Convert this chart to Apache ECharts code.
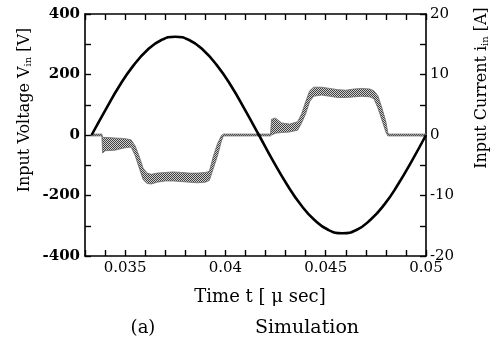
<!DOCTYPE html>
<html><head><meta charset="utf-8">
<script src="https://cdn.jsdelivr.net/npm/echarts@6/dist/echarts.min.js"></script>
<style>html,body{margin:0;padding:0;background:#fff}#c{width:496px;height:345px}</style>
</head><body><div id="c"></div>
<script>
// Input voltage (left axis, V)
const vTime = [0.03333,0.03403,0.03472,0.03542,0.03611,0.03681,0.03750,0.03819,0.03889,0.03958,0.04028,0.04097,0.04167,0.04236,0.04306,0.04375,0.04444,0.04514,0.04583,0.04653,0.04722,0.04792,0.04861,0.04931,0.05000];
const vVolt = [0,84,163,230,281,314,325,314,281,230,163,84,0,-84,-163,-230,-281,-314,-325,-314,-281,-230,-163,-84,0];

// Input current band (right axis, A): lower and upper envelope
const iTime = [0.03330,0.03384,0.03388,0.03400,0.03450,0.03500,0.03530,0.03550,0.03570,0.03590,0.03610,0.03630,0.03660,0.03700,0.03740,0.03780,0.03820,0.03860,0.03900,0.03920,0.03940,0.03960,0.03980,0.03990,0.04225,0.04230,0.04250,0.04280,0.04320,0.04360,0.04380,0.04400,0.04420,0.04440,0.04480,0.04520,0.04560,0.04600,0.04640,0.04680,0.04720,0.04740,0.04760,0.04780,0.04800,0.04810,0.04815,0.05000];
const iLow  = [-0.15,-0.15,-3.0,-2.6,-2.5,-2.1,-2.0,-3.4,-5.4,-7.4,-8.0,-8.1,-7.8,-7.6,-7.6,-7.7,-7.8,-7.9,-7.8,-7.5,-5.5,-3.5,-1.0,-0.15,-0.15,0.0,0.3,0.4,0.5,0.8,2.0,3.5,5.5,6.4,6.6,6.4,6.2,6.2,6.3,6.4,6.3,6.0,4.5,2.5,0.5,-0.15,-0.15,-0.15];
const iHigh = [0.15,0.15,-0.4,-0.4,-0.5,-0.6,-0.8,-1.8,-3.5,-5.5,-6.3,-6.5,-6.3,-6.2,-6.1,-6.2,-6.3,-6.3,-6.2,-6.0,-3.5,-1.5,-0.1,0.15,0.15,2.6,2.8,2.0,1.8,2.2,3.5,5.5,7.3,7.9,7.9,7.7,7.5,7.4,7.6,7.7,7.6,7.3,6.5,4.5,2.2,0.3,0.15,0.15];

const xTicks = {min:0.033, max:0.05, interval:0.001};
const vTicks = {min:-400, max:400, interval:100};
const iTicks = {min:-20, max:20, interval:5};

const FONT = 'DejaVu Serif';
const cv = document.createElement('canvas'); cv.width = 2; cv.height = 2;
const cx = cv.getContext('2d');
cx.fillStyle = '#d0d0d0'; cx.fillRect(0,0,2,2);
cx.fillStyle = '#404040'; cx.fillRect(0,0,1,1); cx.fillRect(1,1,1,1);

const chart = echarts.init(document.getElementById('c'), null, {renderer:'canvas'});
const axisLine = {show:true, onZero:false, lineStyle:{color:'#000', width:1.6}};
const tick = {show:true, inside:true, length:6, lineStyle:{color:'#000', width:1.4}};
const labReg = {color:'#000', fontFamily:FONT, fontSize:15, fontWeight:'normal'};
const labBold = {color:'#000', fontFamily:FONT, fontSize:15, fontWeight:'bold'};

const bandData = iTime.map((t,k)=>[t,iLow[k],iHigh[k]]);

chart.setOption({
  animation:false,
  grid:{left:85, right:70, top:14, bottom:89},
  xAxis:[
    {type:'value', position:'bottom', min:xTicks.min, max:xTicks.max, interval:xTicks.interval,
     axisLine:axisLine, axisTick:tick, splitLine:{show:false},
     axisLabel:Object.assign({margin:5, formatter:function(v){
        const k = v/0.005; if (Math.abs(k-Math.round(k))<1e-6) return String(parseFloat(v.toFixed(3))); return '';}}, labReg)},
    {type:'value', position:'top', min:xTicks.min, max:xTicks.max, interval:xTicks.interval,
     axisLine:axisLine, axisTick:tick, splitLine:{show:false}, axisLabel:{show:false}}
  ],
  yAxis:[
    {type:'value', position:'left', min:vTicks.min, max:vTicks.max, interval:vTicks.interval,
     axisLine:axisLine, axisTick:tick, splitLine:{show:false},
     axisLabel:Object.assign({margin:5, formatter:function(v){return (Math.round(v)%200===0)?String(Math.round(v)):'';}}, labBold)},
    {type:'value', position:'right', min:iTicks.min, max:iTicks.max, interval:iTicks.interval,
     axisLine:axisLine, axisTick:tick, splitLine:{show:false},
     axisLabel:Object.assign({margin:4, formatter:function(v){return (Math.round(v)%10===0)?String(Math.round(v)):'';}}, labReg)}
  ],
  series:[
    {type:'custom', name:'iin', xAxisIndex:0, yAxisIndex:1, data:bandData,
     encode:{x:0, y:[1,2]}, z:2,
     renderItem:function(params, api){
       if (params.dataIndex !== 0) return null;
       const up = [], lo = [];
       for (let k=0;k<bandData.length;k++){
         up.push(api.coord([bandData[k][0], bandData[k][2]]));
         lo.push(api.coord([bandData[k][0], bandData[k][1]]));
       }
       const pts = up.concat(lo.reverse());
       return {type:'polygon', shape:{points:pts, smooth:0},
               style:{fill:{image:cv, repeat:'repeat'}, stroke:'#6a6a6a', lineWidth:0.8}};
     }},
    {type:'line', name:'Vin', xAxisIndex:0, yAxisIndex:0,
     data:vTime.map((t,k)=>[t,vVolt[k]]), showSymbol:false, smooth:true,
     lineStyle:{color:'#000', width:2.6}, z:5}
  ],
  graphic:[
    {type:'text', x:25, y:110, rotation:Math.PI/2, style:{
      text:'Input Voltage V{s|in} [V]', fill:'#000', font:'16px "DejaVu Serif"', align:'center', verticalAlign:'middle',
      rich:{s:{fontSize:10, fontFamily:FONT, fill:'#000', padding:[6,0,0,0]}}}},
    {type:'text', x:482, y:88, rotation:Math.PI/2, style:{
      text:'Input Current i{s|in} [A]', fill:'#000', font:'16px "DejaVu Serif"', align:'center', verticalAlign:'middle',
      rich:{s:{fontSize:10, fontFamily:FONT, fill:'#000', padding:[6,0,0,0]}}}},
    {type:'text', x:260, y:297, style:{text:'Time t [ μ sec]', fill:'#000', font:'18px "DejaVu Serif"', align:'center', verticalAlign:'middle'}},
    {type:'text', x:143, y:328, style:{text:'(a)', fill:'#000', font:'18px "DejaVu Serif"', align:'center', verticalAlign:'middle'}},
    {type:'text', x:307, y:328, style:{text:'Simulation', fill:'#000', font:'19px "DejaVu Serif"', align:'center', verticalAlign:'middle'}}
  ]
});
</script></body></html>
